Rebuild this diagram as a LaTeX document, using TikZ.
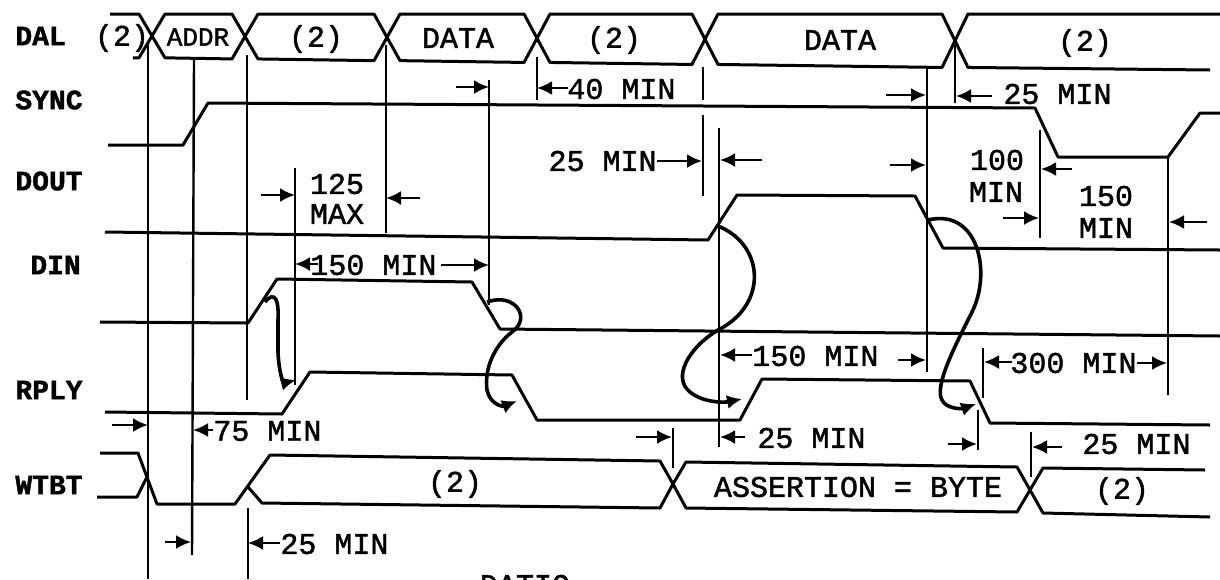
\documentclass[tikz,border=0pt]{standalone}
\usepackage{fontspec}
\setmainfont[FakeBold=1.5]{Liberation Mono}
\usetikzlibrary{arrows.meta}

\begin{document}
\begin{tikzpicture}[x=0.5pt,y=-0.5pt]
  \tikzset{sig/.style={line width=1.5pt,line join=round}}
  \tikzset{tline/.style={line width=1.2pt}}
  \tikzset{dim/.style={line width=1.2pt,-{Latex[length=7.5pt,width=7pt]}}}
  \tikzset{cause/.style={line width=1.8pt,-{Latex[length=7.5pt,width=7pt]}}}
  \tikzset{every node/.style={font=\fontsize{15}{16}\selectfont,inner sep=0pt}}
  \tikzset{lbl/.style={anchor=west,font=\fontsize{14}{16}\selectfont\bfseries}}
  \useasboundingbox (0,0) rectangle (1220,579);

  % signal names
  \node[lbl] (dal)  at (15,36)  {DAL};
  \node[lbl] (sync) at (15,100) {SYNC};
  \node[lbl] (dout) at (15,181) {DOUT};
  \node[lbl] (din)  at (30,265) {DIN};
  \node[lbl] (rply) at (15,390) {RPLY};
  \node[lbl] (wtbt) at (15,485) {WTBT};

  % DAL bus
  \draw[sig] (110,14) foreach \c in {152,245,387,537,705,955} { -- (\c-13,14) -- (\c,35+\c*0.006) -- (\c+13,14) } -- (1220,14);
  \draw[sig] (133,58) foreach \c in {152,245,387,537,705,955} { -- (\c-13,56+\c*0.012) -- (\c,35+\c*0.006) -- (\c+13,56+\c*0.012) } -- (1210,70);
  \node (dal-1) at (122,38) {(2)};
  \node[font=\fontsize{13}{14}\selectfont] (dal-addr) at (198,37) {ADDR};
  \node (dal-2) at (316,39) {(2)};
  \node (dal-data1) at (458,38) {DATA};
  \node (dal-3) at (614,40) {(2)};
  \node (dal-data2) at (840,40) {DATA};
  \node (dal-4) at (1085,43) {(2)};

  % control lines
  \draw[sig] (108,145) -- (183,145) -- (208,103) -- (1035,108) -- (1058,157) -- (1168,157) -- (1200,113) -- (1220,113);
  \draw[sig] (105,232) -- (708,240) -- (737,195) -- (915,196) -- (943,248) -- (1220,250);
  \draw[sig] (100,322) -- (248,323) -- (277,279) -- (472,282) -- (500,329) -- (1220,336);
  \draw[sig] (105,412) -- (282,414) -- (310,372) -- (512,375) -- (537,420) -- (740,420) -- (762,379) -- (970,381) -- (990,423) -- (1210,425);

  % WTBT bus
  \draw[sig] (100,453) -- (138,453) -- (157,504) -- (235,504) -- (270,455) -- (660,461) -- (673,484) -- (686,462) -- (1017,467) -- (1030,490) -- (1043,468) -- (1205,470);
  \draw[sig] (97,497) -- (137,497) -- (147,477);
  \draw[sig] (248,487) -- (262,503) -- (660,508) -- (673,484) -- (686,508) -- (1017,512) -- (1030,490) -- (1043,513) -- (1210,517);
  \node (wtbt-1) at (455,484) {(2)};
  \node (wtbt-byte) at (858,487) {ASSERTION = BYTE};
  \node (wtbt-2) at (1122,491) {(2)};

  % timing lines
  \draw[tline] (148,43) -- (148,579);
  \draw[tline] (194,60) -- (192,555);
  \draw[tline] (247,55) -- (247,400);
  \draw[tline] (248,508) -- (248,579);
  \draw[tline] (295,168) -- (295,385);
  \draw[tline] (386,45) -- (386,233);
  \draw[tline] (489,80) -- (489,305);
  \draw[tline] (537,57) -- (537,100);
  \draw[tline] (703,67) -- (703,100);
  \draw[tline] (703,115) -- (703,196);
  \draw[tline] (719,128) -- (719,447);
  \draw[tline] (927,66) -- (927,372);
  \draw[tline] (955,45) -- (955,103);
  \draw[tline] (1040,130) -- (1040,238);
  \draw[tline] (1168,158) -- (1168,395);
  \draw[tline] (983,348) -- (983,398);
  \draw[tline] (978,410) -- (978,450);
  \draw[tline] (1031,432) -- (1031,477);
  \draw[tline] (673,428) -- (673,468);

  % intervals
  \draw[dim] (112,425) -- (148,425);
  \draw[dim] (213,430) -- (193,430);
  \node[anchor=west] (t75) at (213,431) {75 MIN};
  \draw[dim] (165,542) -- (191,542);
  \draw[dim] (280,543) -- (248,543);
  \node[anchor=west] (t25a) at (280,544) {25 MIN};
  \draw[dim] (261,195) -- (295,195);
  \draw[dim] (420,198) -- (386,198);
  \node (t125) at (337,184) {125};
  \node (tmax) at (337,214) {MAX};
  \draw[dim] (318,264) -- (295,264);
  \node[anchor=west] (t150a) at (310,265) {150 MIN};
  \draw[dim] (t150a.east) ++(4,0) -- (489,265);
  \draw[dim] (456,87) -- (489,87);
  \draw[dim] (568,88) -- (537,88);
  \node[anchor=west] (t40) at (567,89) {40 MIN};
  \node[anchor=east] (t25b) at (657,161) {25 MIN};
  \draw[dim] (t25b.east) -- (702,161);
  \draw[dim] (762,160) -- (720,160);
  \draw[dim] (886,95) -- (926,95);
  \draw[dim] (992,96) -- (956,96);
  \node[anchor=west] (t25c) at (1003,94) {25 MIN};
  \draw[dim] (890,165) -- (926,165);
  \draw[dim] (1072,169) -- (1041,169);
  \node (t100) at (997,160) {100};
  \node (t100m) at (996,192) {MIN};
  \draw[dim] (1003,218) -- (1039,218);
  \draw[dim] (1207,222) -- (1169,222);
  \node (t150b) at (1106,196) {150};
  \node (t150bm) at (1106,228) {MIN};
  \draw[dim] (752,355) -- (720,355);
  \node[anchor=west] (t150c) at (752,356) {150 MIN};
  \draw[dim] (898,360) -- (926,360);
  \draw[dim] (1012,362) -- (984,362);
  \node[anchor=west] (t300) at (1010,363) {300 MIN};
  \draw[dim] (t300.east) -- (1167,363);
  \draw[dim] (636,437) -- (672,437);
  \draw[dim] (745,437) -- (720,437);
  \node[anchor=west] (t25d) at (757,438) {25 MIN};
  \draw[dim] (948,444) -- (977,444);
  \draw[dim] (1062,447) -- (1032,447);
  \node[anchor=west] (t25e) at (1082,444) {25 MIN};

  % cause and effect
  \draw[cause] (265,302) .. controls (275,290) and (279,300) .. (278,320) -- (278,352) .. controls (279,375) and (284,383) .. (296,380);
  \draw[cause] (487,302) .. controls (515,292) and (532,318) .. (512,332) .. controls (495,345) and (484,368) .. (487,390) .. controls (490,404) and (502,407) .. (517,401);
  \draw[cause] (718,226) .. controls (765,245) and (768,305) .. (718,330) .. controls (688,348) and (672,378) .. (690,392) .. controls (702,402) and (722,403) .. (742,399);
  \draw[cause] (928,220) .. controls (978,208) and (992,272) .. (972,312) .. controls (955,346) and (934,386) .. (942,400) .. controls (946,409) and (962,409) .. (976,404);

  \node (cap) at (525,585) {DATIO};
\end{tikzpicture}
\end{document}
